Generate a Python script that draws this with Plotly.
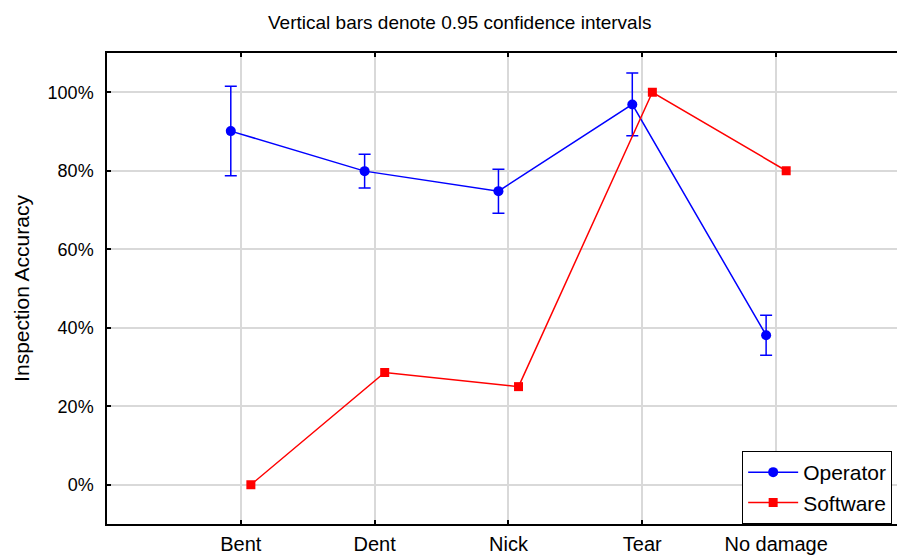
import plotly.graph_objects as go

# Defect categories and inspection accuracy (%)
categories = ["Bent", "Dent", "Nick", "Tear", "No damage"]
operator_mean = [90.1, 79.9, 74.8, 96.9, 38.1]
operator_ci = [11.4, 4.3, 5.6, 8.0, 5.1]   # half-width of 0.95 CI
software_acc = [0.0, 28.6, 25.0, 100.0, 80.0]

y_ticks = [0, 20, 40, 60, 80, 100]
y_tick_labels = ["0%", "20%", "40%", "60%", "80%", "100%"]

FONT = "Liberation Sans, Arial, sans-serif"
shift = 0.075  # horizontal dodge so the two series don't overlap
idx = list(range(len(categories)))

fig = go.Figure()

fig.add_trace(go.Scatter(
    x=[i - shift for i in idx], y=operator_mean,
    mode="lines+markers", name="Operator",
    line=dict(color="#0000ff", width=1.5),
    marker=dict(symbol="circle", size=10, color="#0000ff"),
    error_y=dict(type="data", array=operator_ci, visible=True,
                 color="#0000ff", thickness=1.5, width=6),
))

fig.add_trace(go.Scatter(
    x=[i + shift for i in idx], y=software_acc,
    mode="lines+markers", name="Software",
    line=dict(color="#ff0000", width=1.5),
    marker=dict(symbol="square", size=9, color="#ff0000"),
))

fig.update_layout(
    width=897, height=559,
    margin=dict(l=107, r=0, t=53, b=35),
    paper_bgcolor="white", plot_bgcolor="white",
    font=dict(family=FONT, color="black"),
    showlegend=True,
    legend=dict(
        x=0.804, y=0, xanchor="left", yanchor="bottom",
        bgcolor="white", bordercolor="black", borderwidth=1,
        font=dict(size=21, family=FONT),
        itemwidth=50, tracegroupgap=0,
    ),
    annotations=[dict(
        text="Vertical bars denote 0.95 confidence intervals",
        xref="paper", yref="paper", x=(459 - 107) / 790, y=1,
        yshift=31, xanchor="center", yanchor="middle", showarrow=False,
        font=dict(size=19, family=FONT),
    )],
)

fig.update_xaxes(
    range=[-1, (897 - 240) / 134],
    tickvals=idx, ticktext=categories,
    tickfont=dict(size=20),
    showgrid=True, gridcolor="#d9d9d9", gridwidth=1.5,
    showline=True, linecolor="black", linewidth=1.5, mirror="ticks",
    ticks="inside", ticklen=4, tickcolor="black", tickwidth=1.5,
    ticklabelstandoff=1, automargin=False,
    zeroline=False,
)

fig.update_yaxes(
    range=[-10, 110],
    tickvals=y_ticks, ticktext=y_tick_labels,
    tickfont=dict(size=18),
    title=dict(text="Inspection Accuracy", font=dict(size=21), standoff=12),
    showgrid=True, gridcolor="#d9d9d9", gridwidth=1.5,
    showline=True, linecolor="black", linewidth=1.5,
    ticks="inside", ticklen=4, tickcolor="black", tickwidth=1.5,
    ticklabelstandoff=8, automargin=False,
    zeroline=False,
)

fig.write_html("out.html")
